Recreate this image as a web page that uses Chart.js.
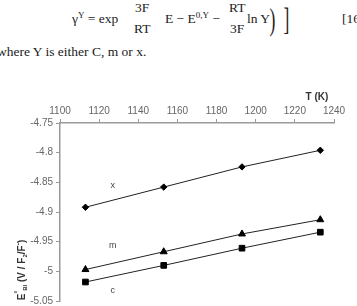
<!DOCTYPE html>
<html>
<head>
<meta charset="utf-8">
<script src="https://cdn.jsdelivr.net/npm/chart.js@4"></script>
<style>
  body { margin: 0; background: #fff; width: 357px; height: 306px; overflow: hidden; position: relative; }
  .t { position: absolute; font-family: "Liberation Serif", "Times New Roman", serif; font-size: 13.5px; line-height: 14px; color: #222; white-space: nowrap; }
  .t sup { font-size: 9px; vertical-align: 5px; line-height: 0; }
  #myChart { position: absolute; left: 0; top: 0; }
</style>
</head>
<body>
<div class="t" style="left:72px; top:12px;">&gamma;<sup>Y</sup> = exp</div>
<div class="t" style="left:135px; top:1px;">3F</div>
<div class="t" style="left:134px; top:22px;">RT</div>
<div class="t" style="left:165px; top:12px;">E &minus; E<sup>0,Y</sup> &minus;</div>
<div class="t" style="left:229px; top:1px;">RT</div>
<div class="t" style="left:230px; top:22px;">3F</div>
<div class="t" style="left:247px; top:12px;">ln Y</div>
<div class="t" style="left:267px; top:3px; font-size:32px; line-height:32px; transform: scaleX(0.55);">)</div>
<div class="t" style="left:281px; top:3px; font-size:32px; line-height:32px; transform: scaleX(0.55);">]</div>
<div class="t" style="left:342px; top:12px;">[16</div>
<div class="t" style="left:-3px; top:45px;">where Y is either C, m or x.</div>

<canvas id="myChart" width="357" height="306"></canvas>

<script>
// values
const temps = [1113, 1153, 1193, 1233];
const xValues = [-4.892, -4.858, -4.824, -4.796];
const mValues = [-4.997, -4.967, -4.937, -4.913];
const cValues = [-5.018, -4.990, -4.961, -4.934];

const seriesNames = ['x', 'm', 'c'];
const seriesStyles = ['rectRot', 'triangle', 'rect'];
const seriesRadius = [3.2, 4, 4];
const labelTemps = [1127, 1127, 1127];
const labelValues = [-4.856, -4.956, -5.032];

const xTicks = { min: 1100, max: 1240, step: 20 };
const yTicks = { min: -5.05, max: -4.75, step: 0.05 };

const allValues = [xValues, mValues, cValues];

const datasets = allValues.map((vals, i) => ({
    label: seriesNames[i],
    data: temps.map((t, j) => ({ x: t, y: vals[j] })),
    showLine: true,
    borderColor: '#222',
    borderWidth: 1,
    pointStyle: seriesStyles[i],
    pointRadius: seriesRadius[i],
    pointBackgroundColor: '#000',
    pointBorderColor: '#000',
    pointBorderWidth: 1
}));

const textPlugin = {
    id: 'texts',
    afterDraw(chart) {
        const ctx = chart.ctx;
        const xs = chart.scales.x, ys = chart.scales.y;
        ctx.save();
        // series labels
        ctx.fillStyle = '#444';
        ctx.font = '9px "Liberation Sans", Arial, sans-serif';
        ctx.textAlign = 'center';
        ctx.textBaseline = 'middle';
        seriesNames.forEach((n, i) => {
            ctx.fillText(n, xs.getPixelForValue(labelTemps[i]), ys.getPixelForValue(labelValues[i]));
        });
        // axis title on top
        ctx.fillStyle = '#333';
        ctx.font = 'bold 10px "Liberation Sans", Arial, sans-serif';
        ctx.fillText('T (K)', 317, 97);
        // rotated y title
        ctx.translate(22, 270);
        ctx.rotate(-Math.PI / 2);
        const parts = [
            ['E', 10, 0], ['\u00b0', 7, -4], ['BI', 6, 3], [' (V / F', 10, 0],
            ['2', 6, 3], ['/F', 10, 0], ['-', 7, -4], [')', 10, 0]
        ];
        let w = 0;
        parts.forEach(p => { ctx.font = 'bold ' + p[1] + 'px "Liberation Sans", Arial, sans-serif'; w += ctx.measureText(p[0]).width; });
        let px = -w / 2;
        ctx.textAlign = 'left';
        parts.forEach(p => {
            ctx.font = 'bold ' + p[1] + 'px "Liberation Sans", Arial, sans-serif';
            ctx.fillText(p[0], px, p[2]);
            px += ctx.measureText(p[0]).width;
        });
        ctx.restore();
    }
};

const ctx = document.getElementById('myChart').getContext('2d');
const myChart = new Chart(ctx, {
    type: 'scatter',
    data: { datasets: datasets },
    options: {
        responsive: false,
        animation: false,
        devicePixelRatio: 1,
        layout: { padding: { left: 0, right: 23, top: 0, bottom: 3 } },
        plugins: { legend: { display: false }, tooltip: { enabled: false } },
        scales: {
            x: {
                type: 'linear',
                position: 'top',
                min: xTicks.min,
                max: xTicks.max,
                ticks: {
                    stepSize: xTicks.step,
                    color: '#666',
                    font: { size: 10, family: '"Liberation Sans", Arial, sans-serif' },
                    padding: 2,
                    maxRotation: 0,
                    callback: v => String(v)
                },
                grid: { drawOnChartArea: false, tickLength: 4, color: '#999' },
                border: { color: '#999', width: 1.5 },
                afterFit: s => { s.height = 123; s.paddingLeft = 0; s.paddingRight = 0; }
            },
            y: {
                min: yTicks.min,
                max: yTicks.max,
                ticks: {
                    stepSize: yTicks.step,
                    color: '#666',
                    font: { size: 10, family: '"Liberation Sans", Arial, sans-serif' },
                    padding: 3,
                    callback: v => String(+v.toFixed(2))
                },
                grid: { drawOnChartArea: false, tickLength: 4, color: '#999' },
                border: { color: '#999', width: 1.5 },
                afterFit: s => { s.width = 60; s.paddingTop = 0; s.paddingBottom = 0; }
            }
        }
    },
    plugins: [textPlugin]
});
</script>
</body>
</html>
